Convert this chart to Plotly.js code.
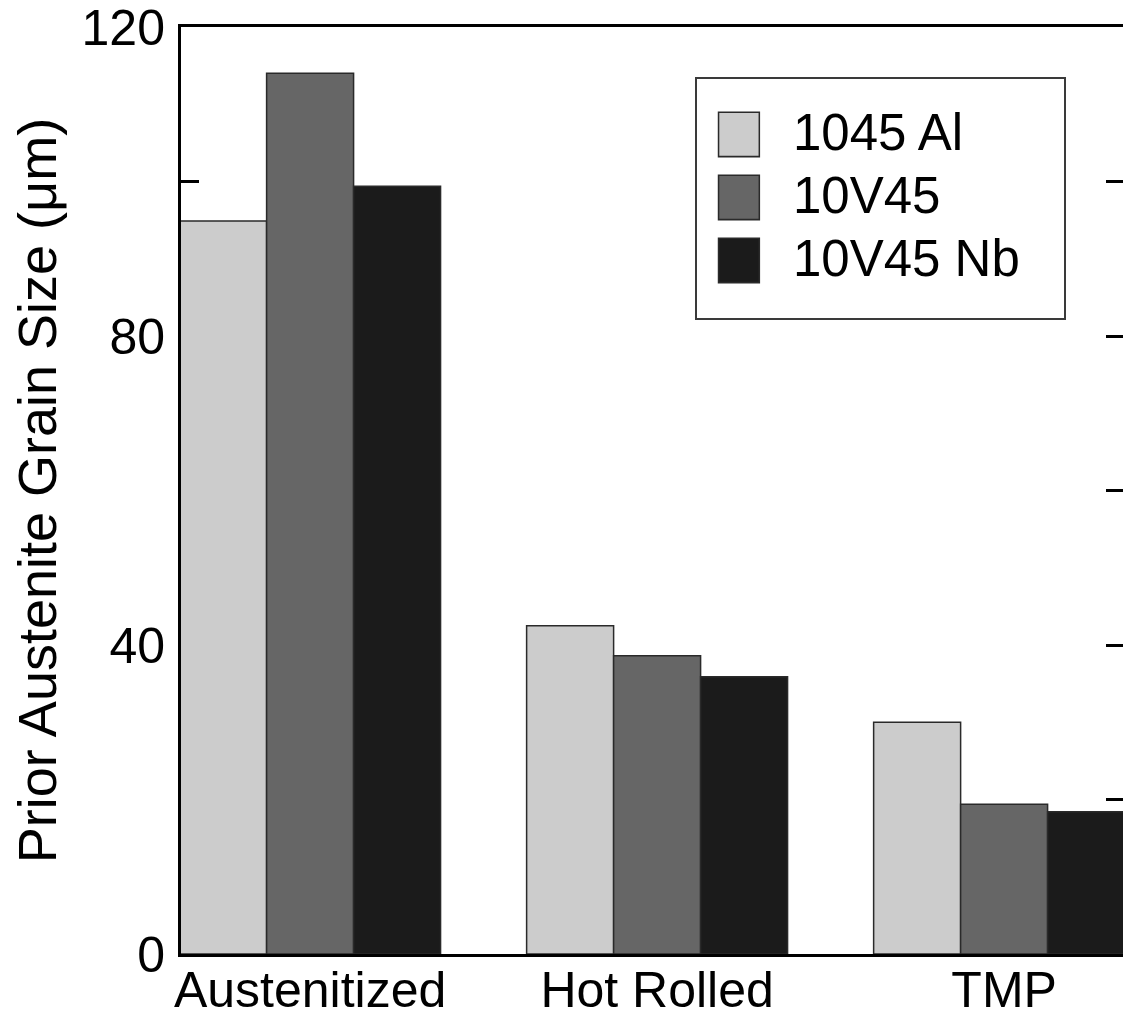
<!DOCTYPE html>
<html>
<head>
<meta charset="utf-8">
<script src="https://cdn.plot.ly/plotly-3.0.1.min.js"></script>
<style>
html, body { margin: 0; padding: 0; overflow: hidden; background: #fff; }
#chart { width: 1130px; height: 1017px; }
</style>
</head>
<body>
<div id="chart"></div>
<script>
const categories = ["Austenitized", "Hot Rolled", "TMP"];
const seriesNames = ["1045 Al", "10V45", "10V45 Nb"];
const al1045 = [94.9, 42.5, 30.0];
const v1045 = [114.0, 38.6, 19.4];
const v45nb = [99.4, 35.9, 18.4];
const yTickVals = [0, 20, 40, 60, 80, 100, 120];
const yTickText = ["0", "", "40", "", "80", "", "120"];

const colors = ["#cccccc", "#666666", "#1b1b1b"];
const seriesValues = [al1045, v1045, v45nb];
const FONT = "Liberation Sans, Arial, sans-serif";

const traces = seriesValues.map((vals, i) => ({
  type: "bar",
  name: seriesNames[i],
  x: [0, 1, 2],
  y: vals,
  marker: { color: colors[i], line: { color: "#2a2a2a", width: 1.5 } },
  hoverinfo: "x+y+name"
}));

const layout = {
  width: 1130,
  height: 1017,
  margin: { l: 181, r: 6, t: 27, b: 63 },
  paper_bgcolor: "#ffffff",
  plot_bgcolor: "#ffffff",
  font: { family: FONT, size: 50, color: "#000" },
  barmode: "group",
  bargap: 0.248,
  bargroupgap: 0,
  showlegend: true,
  legend: {
    x: 0.545, y: 0.9401, xanchor: "left", yanchor: "top",
    bgcolor: "#ffffff",
    bordercolor: "#3a3a3a",
    borderwidth: 2,
    itemwidth: 86,
    font: { family: FONT, size: 51, color: "#000" },
    traceorder: "normal"
  },
  xaxis: {
    range: [-0.372, 2.3455],
    tickmode: "array",
    tickvals: [0, 1, 2],
    ticktext: categories,
    ticks: "",
    ticklabelstandoff: -10,
    showline: true,
    linecolor: "#000",
    linewidth: 3,
    mirror: true,
    showgrid: false,
    zeroline: false,
    layer: "above traces",
    tickfont: { family: FONT, size: 50, color: "#000" }
  },
  yaxis: {
    range: [0, 120],
    tickmode: "array",
    tickvals: yTickVals,
    ticktext: yTickText,
    ticks: "inside",
    ticklen: 18,
    tickwidth: 3,
    tickcolor: "#000",
    ticklabelstandoff: 3,
    ticklabeloverflow: "allow",
    showline: true,
    linecolor: "#000",
    linewidth: 3,
    mirror: "ticks",
    showgrid: false,
    zeroline: false,
    layer: "below traces",
    tickfont: { family: FONT, size: 50, color: "#000" },
    title: { text: "Prior Austenite Grain Size (μm)", font: { family: FONT, size: 54, color: "#000" } }
  }
};

function parseTranslate(el) {
  const t = el.getAttribute("transform") || "";
  const m = t.match(/translate\(\s*([-\d.e]+)[ ,]+([-\d.e]+)\s*\)/);
  return m ? [parseFloat(m[1]), parseFloat(m[2])] : [0, 0];
}

Plotly.newPlot("chart", traces, layout, { displayModeBar: false, staticPlot: true }).then(() => {
  // enlarge legend swatches to match the reference's large boxes
  document.querySelectorAll(".legend .legendpoints path").forEach(p => {
    p.setAttribute("transform", "translate(42,4) scale(3.4,3.7)");
    p.style.strokeWidth = "0.45px";
  });
  // tighten the row spacing a little, like the reference legend
  const items = Array.from(document.querySelectorAll(".legend .traces"));
  if (items.length === 3) {
    const mid = parseTranslate(items[1]);
    items.forEach((g, i) => {
      const [tx] = parseTranslate(g);
      g.setAttribute("transform", "translate(" + tx + "," + (mid[1] + (i - 1) * 63) + ")");
    });
  }
  // widen/heighten the legend frame to the reference's proportions
  const bg = document.querySelector(".legend rect.bg");
  if (bg) {
    const y0 = parseFloat(bg.getAttribute("y") || "0");
    bg.setAttribute("y", y0 - 6);
    bg.setAttribute("width", 369);
    bg.setAttribute("height", 241);
  }
  // nudge the y-axis title to the reference's horizontal position
  const yt = document.querySelector(".ytitle");
  if (yt) {
    const tr = yt.getAttribute("transform") || "";
    yt.setAttribute("transform", "translate(-5,0) " + tr);
  }
});
</script>
</body>
</html>
